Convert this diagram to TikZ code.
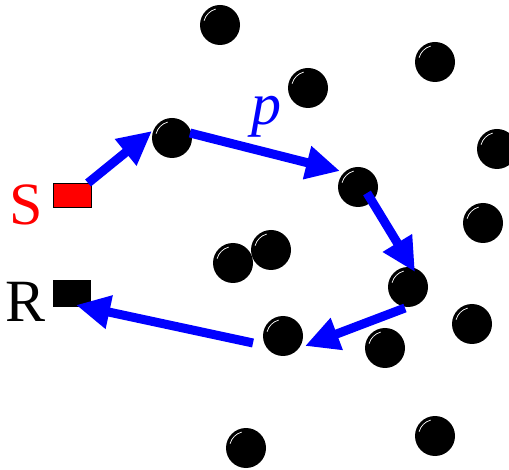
\documentclass[tikz,border=0pt]{standalone}
\usepackage{fontspec}
\setmainfont{Liberation Serif}
\usetikzlibrary{arrows.meta}
\begin{document}
\begin{tikzpicture}[x=1pt,y=-1pt,
  dot/.style={circle,fill=black,minimum size=40pt,inner sep=0pt,
    path picture={\draw[white,line width=0.7pt] (path picture bounding box.center) ++(105:16.5pt) arc[start angle=105,end angle=165,radius=16.5pt];}},
  link/.style={draw=blue,line width=9pt,-{Triangle[length=34pt,width=32pt]}},
  big/.style={font=\fontsize{60}{60}\selectfont}]
\useasboundingbox (0,0) rectangle (509,470);
% dots
\node[dot] (d1) at (220,25) {};
\node[dot] (d2) at (308,88) {};
\node[dot] (d3) at (435,62) {};
\node[dot] (d4) at (497,149) {};
\node[dot] (d5) at (483,223) {};
\node[dot] (d6) at (472,324) {};
\node[dot] (d7) at (408,287) {};
\node[dot] (d8) at (358,187) {};
\node[dot] (d9) at (172,138) {};
\node[dot] (d11) at (233,263) {};
\node[dot] (d10) at (271,250) {};
\node[dot] (d12) at (283,336) {};
\node[dot] (d13) at (385,348) {};
\node[dot] (d14) at (246,448) {};
\node[dot] (d15) at (435,436) {};
% source and receiver
\node[draw=black,fill=red,line width=0.8pt,minimum width=38pt,minimum height=24pt,inner sep=0pt] (src) at (72,195) {};
\node[fill=black,minimum width=38pt,minimum height=27pt,inner sep=0pt] (rcv) at (72,293.5) {};
\node[big,text=red,anchor=base] (slab) at (26,225) {S};
\node[big,text=black,anchor=base] (rlab) at (26,322) {R};
\node[big,text=blue,anchor=base] (plab) at (266,125) {\itshape p};
% arrow end points
\coordinate (a1s) at (88,183);  \coordinate (a1e) at (152,131);
\coordinate (a2s) at (190,133); \coordinate (a2e) at (340,171);
\coordinate (a3s) at (367,193); \coordinate (a3e) at (415,272);
\coordinate (a4s) at (405,308); \coordinate (a4e) at (305,346);
\coordinate (a5s) at (253,343); \coordinate (a5e) at (76,305);
\draw[link] (a1s) -- (a1e);
\draw[link] (a2s) -- (a2e);
\draw[link] (a3s) -- (a3e);
\draw[link] (a4s) -- (a4e);
\draw[link] (a5s) -- (a5e);
\end{tikzpicture}
\end{document}
